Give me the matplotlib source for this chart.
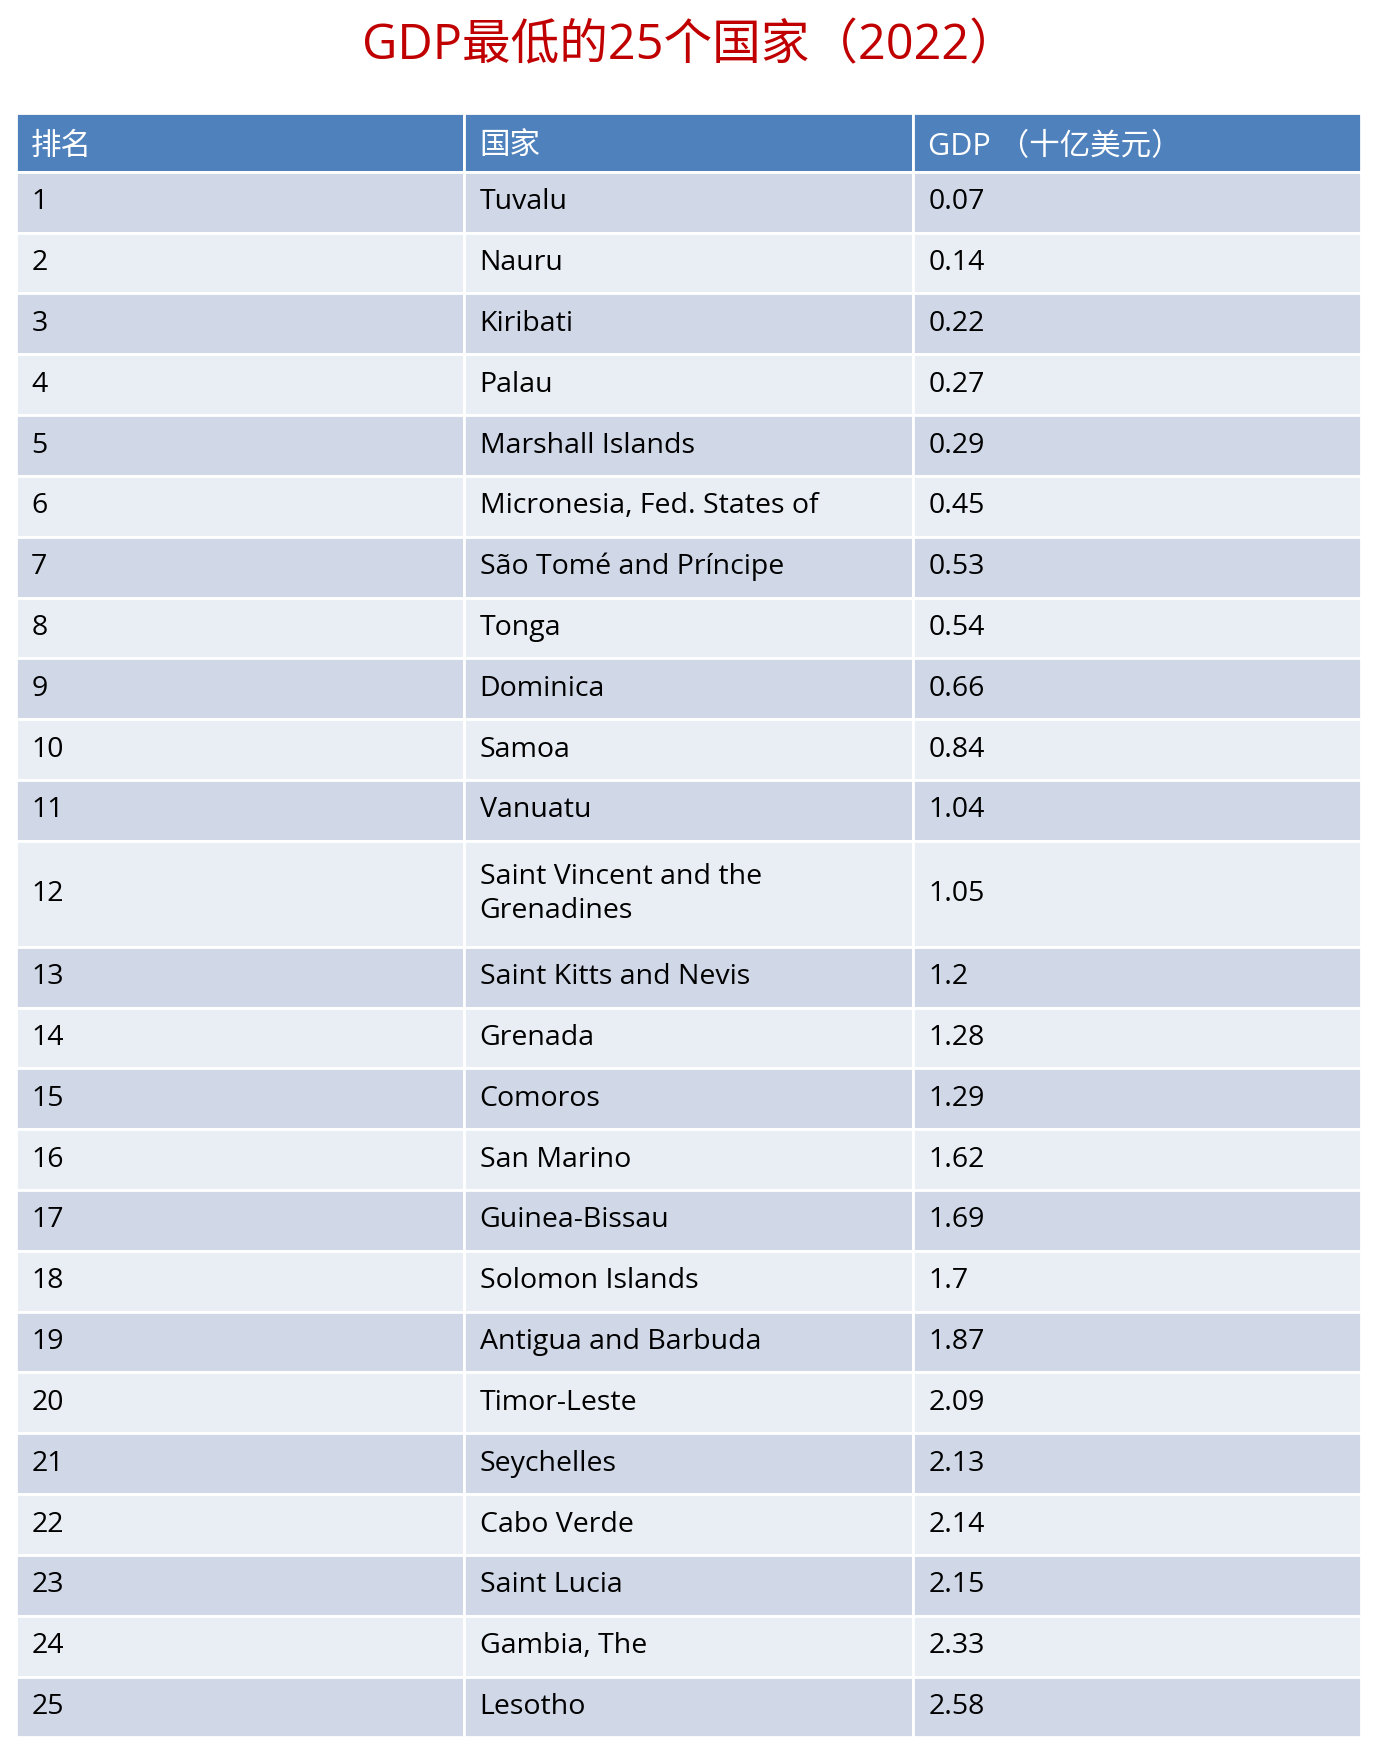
import matplotlib
matplotlib.use("Agg")
import matplotlib.pyplot as plt
from matplotlib.patches import Rectangle

plt.rcParams['font.family'] = ['Open Sans', 'Noto Sans CJK SC', 'DejaVu Sans']

title = "GDP最低的25个国家（2022）"
headers = ["排名", "国家", "GDP （十亿美元）"]
ranks = list(range(1, 26))
countries = ["Tuvalu", "Nauru", "Kiribati", "Palau", "Marshall Islands",
             "Micronesia, Fed. States of", "São Tomé and Príncipe", "Tonga", "Dominica", "Samoa",
             "Vanuatu", "Saint Vincent and the\nGrenadines", "Saint Kitts and Nevis", "Grenada", "Comoros",
             "San Marino", "Guinea-Bissau", "Solomon Islands", "Antigua and Barbuda", "Timor-Leste",
             "Seychelles", "Cabo Verde", "Saint Lucia", "Gambia, The", "Lesotho"]
gdp = ["0.07", "0.14", "0.22", "0.27", "0.29", "0.45", "0.53", "0.54", "0.66", "0.84",
       "1.04", "1.05", "1.2", "1.28", "1.29", "1.62", "1.69", "1.7", "1.87", "2.09",
       "2.13", "2.14", "2.15", "2.33", "2.58"]

W, H = 1237, 1571
fig = plt.figure(figsize=(13.8, 17.53), dpi=100)
ax = fig.add_axes([0, 0, 1, 1])
ax.set_xlim(0, W); ax.set_ylim(H, 0); ax.axis('off')

colx = [14, 416, 818, 1220]
header_top, header_bot = 101, 154
row_h = 54.5
fs = 20.5

ax.text(W / 2, 42, title, color='#C00000', fontsize=35, ha='center', va='center')

for i, h in enumerate(headers):
    ax.add_patch(Rectangle((colx[i], header_top), colx[i + 1] - colx[i], header_bot - header_top,
                           facecolor='#4F81BD', edgecolor='white', lw=2))
    ax.text(colx[i] + 14, (header_top + header_bot) / 2 + 4, h, color='white', fontsize=22, va='center')

y = header_bot
for k in range(len(ranks)):
    nlines = countries[k].count("\n") + 1
    h = row_h if nlines == 1 else 95
    color = '#D0D8E8' if k % 2 == 0 else '#E9EDF4'
    vals = [str(ranks[k]), countries[k], gdp[k]]
    for i in range(3):
        ax.add_patch(Rectangle((colx[i], y), colx[i + 1] - colx[i], h,
                               facecolor=color, edgecolor='white', lw=2))
        ax.text(colx[i] + 14, y + h / 2, vals[i], color='black', fontsize=fs, va='center',
                linespacing=1.3)
    y += h

fig.savefig("out.png", dpi=100, facecolor='white')
